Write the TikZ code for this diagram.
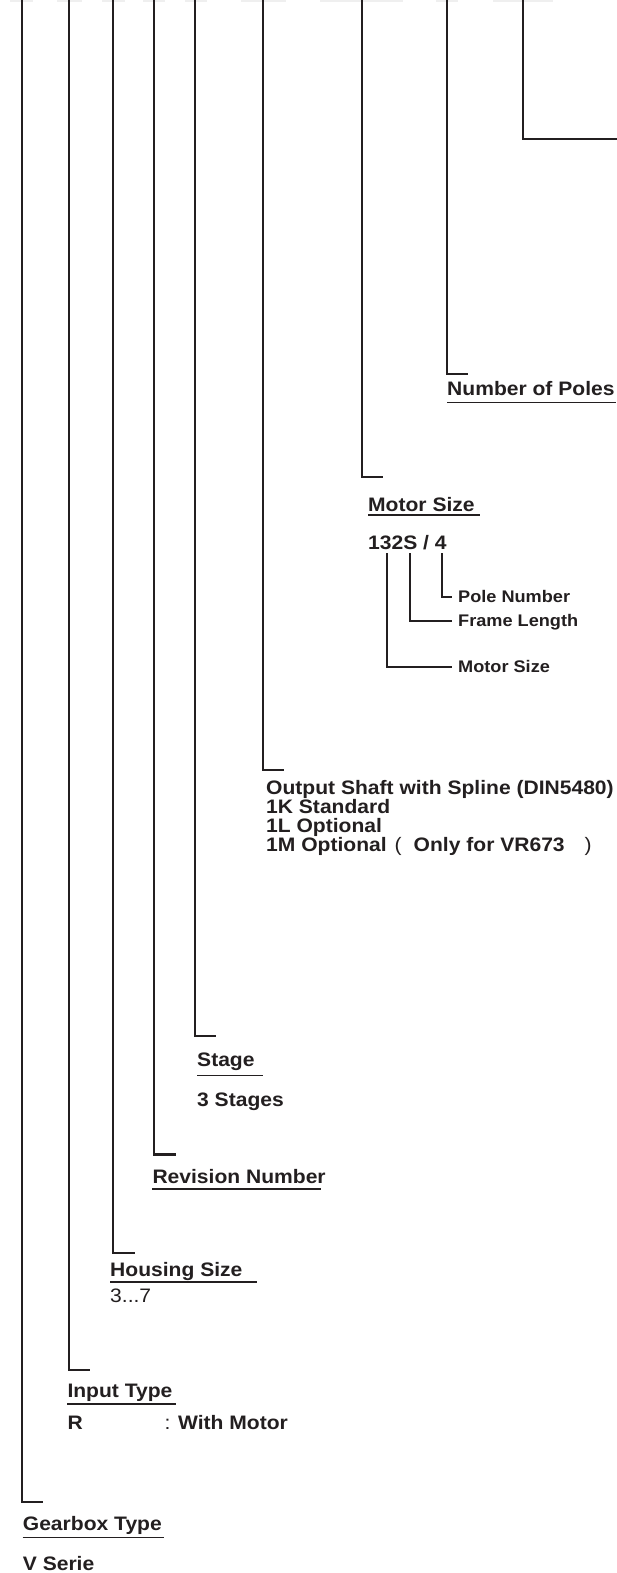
\documentclass[tikz,border=0pt]{standalone}
\usepackage{fontspec}
\setmainfont{Liberation Sans}[FakeStretch=1.08]
\definecolor{ink}{HTML}{231F20}
\definecolor{faint}{HTML}{EFEFEF}
\begin{document}
\begin{tikzpicture}[x=1pt,y=-1pt,
  conn/.style={draw=ink, line width=2.2pt},
  uline/.style={draw=ink, line width=1.1pt},
  edge/.style={draw=faint, line width=1.6pt},
  head/.style={anchor=base west, inner sep=0pt, text=ink, font=\fontsize{19.5}{19}\selectfont\bfseries},
  sub/.style={anchor=base west, inner sep=0pt, text=ink, font=\fontsize{16.8}{17}\selectfont\bfseries},
  plaintext/.style={anchor=base west, inner sep=0pt, text=ink, font=\fontsize{19.5}{19}\selectfont\mdseries}]
\useasboundingbox (0,0) rectangle (617,1573);
\fill[white] (0,0) rectangle (617,1573);

% faint bottom edges of the code boxes above
\foreach \a/\b in {10/33,57/82,102/125,143/165,185/207,241/286,320/403,436/458,493/553}
  \draw[edge] (\a,0.8) -- (\b,0.8);

% top coordinates and tick ends
\coordinate (tG) at (22,0);   \coordinate (eG) at (43,1502);
\coordinate (tI) at (69,0);   \coordinate (eI) at (90,1370);
\coordinate (tH) at (113,0);  \coordinate (eH) at (135,1253);
\coordinate (tR) at (154,0);  \coordinate (eR) at (176,1154.5);
\coordinate (tS) at (195,0);  \coordinate (eS) at (216,1036);
\coordinate (tO) at (263,0);  \coordinate (eO) at (284,770);
\coordinate (tM) at (362,0);  \coordinate (eM) at (383,477);
\coordinate (tP) at (447,0);  \coordinate (eP) at (468,374);
\coordinate (tX) at (523,0);  \coordinate (eX) at (617,139);

\draw[conn] (tG) |- (eG);
\draw[conn] (tI) |- (eI);
\draw[conn] (tH) |- (eH);
\draw[conn] (tR) |- (eR);
\draw[conn] (tS) |- (eS);
\draw[conn] (tO) |- (eO);
\draw[conn] (tM) |- (eM);
\draw[conn] (tP) |- (eP);
\draw[conn] (tX) |- (eX);

% Number of Poles
\node[head] (poles) at (447,395) {Number of Poles};
\draw[uline] (447,402.7) -- (616,402.7);

% Motor Size
\node[head] (motor) at (368,511.7) {Motor Size};
\draw[uline] (368,515) -- (480,515);
\node[head] (code) at (368,549.3) {132S / 4};
\node[sub] (pole) at (458,602) {Pole Number};
\node[sub] (frame) at (458,626.5) {Frame Length};
\node[sub] (msize) at (458,672) {Motor Size};
\coordinate (c1) at (386.7,553);
\coordinate (c2) at (410.3,553);
\coordinate (c3) at (441.7,553);
\coordinate (p1) at (452,666.7);
\coordinate (p2) at (452,621);
\coordinate (p3) at (452,596.7);
\draw[conn] (c1) |- (p1);
\draw[conn] (c2) |- (p2);
\draw[conn] (c3) |- (p3);

% Output shaft
\node[head] (shaft) at (266,794) {Output Shaft with Spline (DIN5480)};
\node[head] (opt1) at (266,813) {1K Standard};
\node[head] (opt2) at (266,832) {1L Optional};
\node[head] (opt3) at (266,851) {1M Optional\hspace{8pt}{\mdseries(}\hspace{12pt}Only for VR673\hspace{20pt}{\mdseries)}};

% Stage
\node[head] (stage) at (197,1066.7) {Stage};
\draw[uline] (197,1075.7) -- (263.3,1075.7);
\node[head] (stages) at (197,1106) {3 Stages};

% Revision number
\node[head] (rev) at (152.3,1183.3) {Revision Number};
\draw[uline] (152.3,1189) -- (321,1189);

% Housing size
\node[head] (house) at (110,1276) {Housing Size};
\draw[uline] (110,1282) -- (256.7,1282);
\node[plaintext] (range) at (110,1302.3) {3...7};

% Input type
\node[head] (input) at (67.3,1397.3) {Input Type};
\draw[uline] (67.3,1404) -- (175.7,1404);
\node[head] (rtype) at (67.3,1429.3) {\makebox[97pt][l]{R}{\mdseries:} With Motor};

% Gearbox type
\node[head] (gear) at (22.7,1530.7) {Gearbox Type};
\draw[uline] (22.7,1537.7) -- (164.3,1537.7);
\node[head] (serie) at (22.7,1570) {V Serie};
\end{tikzpicture}
\end{document}
